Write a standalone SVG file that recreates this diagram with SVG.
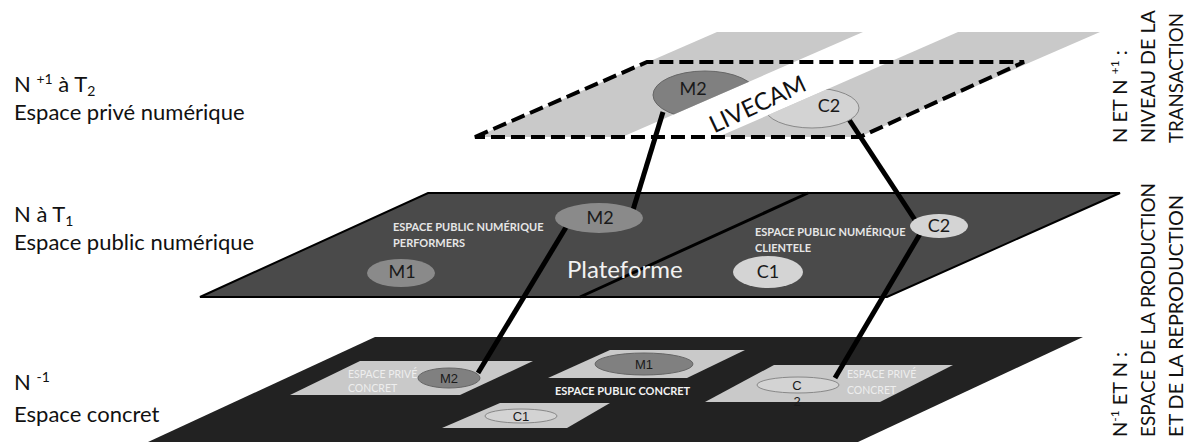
<svg xmlns="http://www.w3.org/2000/svg" width="1196" height="448" viewBox="0 0 1196 448">
<style>
.lbl{font-family:Lato,"Open Sans","Liberation Sans",sans-serif;fill:#111;}
.side{font-family:Lato,"Open Sans","Liberation Sans",sans-serif;font-size:22px;fill:#111;}
.vert{font-family:Lato,"Open Sans","Liberation Sans",sans-serif;font-size:20px;fill:#111;}
.small{font-family:Lato,"Open Sans","Liberation Sans",sans-serif;font-size:11px;fill:#e6e6e6;font-weight:bold;}
.tiny{font-family:Lato,"Open Sans","Liberation Sans",sans-serif;font-size:10.5px;fill:#eeeeee;}
.node{font-family:Lato,"Open Sans","Liberation Sans",sans-serif;font-size:18px;fill:#1a1a1a;text-anchor:middle;}
.anode{font-family:"Liberation Sans",Arial,sans-serif;font-size:13px;fill:#1a1a1a;text-anchor:middle;}
.stripe{fill:#c9c9c9;}
.patch{fill:#c9c9c9;}
.dark{fill:#808080;stroke:#666;stroke-width:1;}
.light{fill:#d3d3d3;stroke:#888;stroke-width:1;}
.mid{fill:#8a8a8a;}
.midl{fill:#d4d4d4;}
.conn{stroke:#000;stroke-width:5;fill:none;stroke-linecap:butt;}
</style>
<defs>
<clipPath id="clip1"><polygon points="476,137 717,32 863,32 622,137"/></clipPath>
<clipPath id="clip2"><polygon points="718,137 958,32 1100,32 859,137"/></clipPath>
</defs>

<!-- Left level labels -->
<g id="label-n-plus-1">
<text class="side" x="14" y="92">N <tspan font-size="14" dy="-8">+1</tspan><tspan dy="8"> à T</tspan><tspan font-size="14" dy="4">2</tspan></text>
<text class="side" x="14" y="120">Espace privé numérique</text>
</g>
<g id="label-n">
<text class="side" x="14" y="222">N à T<tspan font-size="14" dy="4">1</tspan></text>
<text class="side" x="14" y="250">Espace public numérique</text>
</g>
<g id="label-n-minus-1">
<text class="side" x="14" y="390">N <tspan font-size="14" dy="-8">-1</tspan></text>
<text class="side" x="14" y="422">Espace concret</text>
</g>

<!-- Right vertical labels -->
<g id="right-top">
<text class="vert" transform="translate(1127,143) rotate(-90)">N ET N <tspan font-size="12" dy="-8">+1</tspan><tspan dy="8"> :</tspan></text>
<text class="vert" transform="translate(1155,143) rotate(-90)" textLength="133" lengthAdjust="spacingAndGlyphs">NIVEAU DE LA</text>
<text class="vert" transform="translate(1183,143) rotate(-90)" textLength="130" lengthAdjust="spacingAndGlyphs">TRANSACTION</text>
</g>
<g id="right-bottom">
<text class="vert" transform="translate(1127,437) rotate(-90)">N<tspan font-size="12" dy="-8">-1</tspan><tspan dy="8"> ET N :</tspan></text>
<text class="vert" transform="translate(1155,437) rotate(-90)" textLength="254" lengthAdjust="spacingAndGlyphs">ESPACE DE LA PRODUCTION</text>
<text class="vert" transform="translate(1183,437) rotate(-90)" textLength="242" lengthAdjust="spacingAndGlyphs">ET DE LA REPRODUCTION</text>
</g>

<!-- Top plane -->
<g id="plane-top">
<polygon class="stripe" points="476,137 717,32 863,32 622,137"/>
<polygon class="stripe" points="718,137 958,32 1100,32 859,137"/>
<text class="lbl" font-size="24" text-anchor="middle" dominant-baseline="central" transform="translate(757,103) rotate(-25)">LIVECAM</text>
<polygon points="475,137 647,62 1024,62 860,137" fill="none" stroke="#000" stroke-width="4" stroke-dasharray="14,6"/>
</g>

<!-- Middle plane -->
<g id="plane-middle">
<polygon points="200,297 428,193 1120,193 887,297" fill="#4a4a4a" stroke="#000" stroke-width="2"/>
<line x1="580" y1="297" x2="808" y2="193" stroke="#000" stroke-width="3"/>
<text class="small" x="393" y="231">ESPACE PUBLIC NUMÉRIQUE</text>
<text class="small" x="393" y="247">PERFORMERS</text>
<text class="small" x="755" y="236">ESPACE PUBLIC NUMÉRIQUE</text>
<text class="small" x="755" y="252">CLIENTELE</text>
<text class="lbl" font-size="24" style="fill:#f2f2f2" x="567" y="278">Plateforme</text>
</g>

<!-- Bottom plane -->
<g id="plane-bottom">
<polygon points="148,442 375,337 1083,337 858,442" fill="#222"/>
<polygon class="patch" points="360,361 533,361 460,395 290,395"/>
<polygon class="patch" points="610,350 745,350 687,378 548,378"/>
<polygon class="patch" points="500,403 610,403 567,428 442,428"/>
<polygon class="patch" points="774,365 953,365 880,402 705,402"/>
<text class="tiny" x="348" y="378">ESPACE PRIVÉ</text>
<text class="tiny" x="348" y="392">CONCRET</text>
<text class="small" style="fill:#f2f2f2" x="555" y="395" font-size="12.5">ESPACE PUBLIC CONCRET</text>
<text class="tiny" x="847" y="378">ESPACE PRIVÉ</text>
<text class="tiny" x="847" y="394">CONCRET</text>
</g>

<!-- Connectors -->
<g id="connectors">
<line class="conn" x1="663" y1="112" x2="633" y2="210"/>
<line class="conn" x1="568" y1="224" x2="478" y2="373"/>
<line class="conn" x1="848" y1="118" x2="915" y2="220"/>
<line class="conn" x1="920" y1="234" x2="835" y2="378"/>
</g>

<!-- Top nodes -->
<g id="top-m2">
<ellipse cx="705" cy="95" rx="52" ry="24" class="dark" clip-path="url(#clip1)"/>
<text class="node" x="693" y="95">M2</text>
</g>
<g id="top-c2">
<ellipse cx="812" cy="108" rx="47" ry="20" class="light" clip-path="url(#clip2)"/>
<text class="node" x="829" y="112">C2</text>
</g>

<!-- Middle nodes -->
<g id="mid-m1">
<ellipse cx="401" cy="273" rx="34" ry="14" class="mid"/>
<text class="node" x="402" y="278">M1</text>
</g>
<g id="mid-m2">
<ellipse cx="599" cy="218" rx="44" ry="15" class="mid"/>
<text class="node" x="600" y="224">M2</text>
</g>
<g id="mid-c1">
<ellipse cx="768" cy="272" rx="35" ry="16" class="midl"/>
<text class="node" x="768" y="278">C1</text>
</g>
<g id="mid-c2">
<ellipse cx="939" cy="226" rx="29" ry="12" class="midl"/>
<text class="node" x="939" y="232">C2</text>
</g>

<!-- Bottom nodes -->
<g id="bot-m2">
<ellipse cx="449" cy="378" rx="31" ry="10" class="dark"/>
<text class="anode" x="449" y="383">M2</text>
</g>
<g id="bot-m1">
<ellipse cx="644" cy="364" rx="49" ry="11" class="dark"/>
<text class="anode" x="644" y="369">M1</text>
</g>
<g id="bot-c1">
<ellipse cx="521" cy="416" rx="36" ry="7" class="light"/>
<text class="anode" x="521" y="421">C1</text>
</g>
<g id="bot-c2">
<ellipse cx="798" cy="385" rx="41" ry="8" class="light"/>
<text class="anode" x="797" y="390" font-size="15">C</text>
<text class="anode" x="797" y="406" font-size="14">2</text>
</g>
</svg>
